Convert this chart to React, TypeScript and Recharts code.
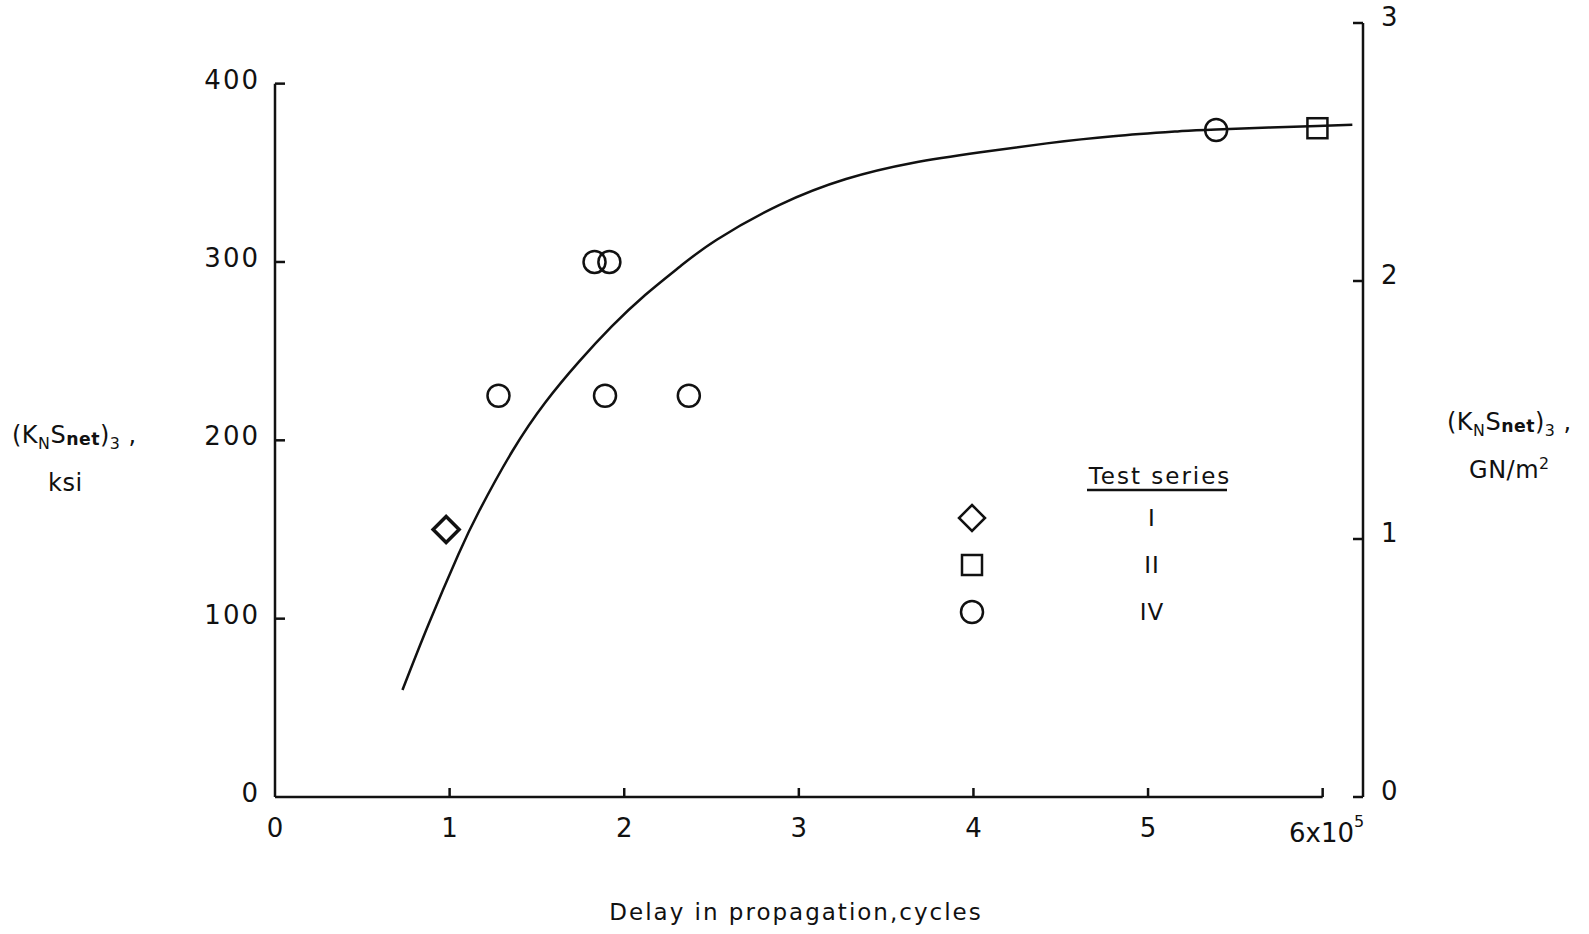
import React from "react";
import {
  ComposedChart,
  Line,
  Scatter,
  XAxis,
  YAxis,
  ReferenceLine,
  Legend,
} from "recharts";

// fitted curve (x in 10^5 cycles, y in ksi)
const curveX = [0.73, 0.88, 1.05, 1.17, 1.36, 1.55, 1.74, 1.93, 2.12, 2.32, 2.53, 2.89, 3.27, 3.65, 4.04, 4.42, 4.8, 5.18, 5.39, 5.97, 6.17];
const curveY = [60, 97, 136, 160.5, 194, 221.5, 244, 264, 281.5, 297.5, 312.5, 332, 346.5, 355.5, 361.5, 366.5, 370.5, 373.3, 374.3, 376.3, 377];

// test series points
const seriesIX = [0.98];
const seriesIY = [150];
const seriesIIX = [5.97];
const seriesIIY = [375];
const seriesIVX = [1.28, 1.83, 1.915, 1.89, 2.37, 5.39];
const seriesIVY = [225, 300, 300, 225, 225, 374];

const xTicks = [0, 1, 2, 3, 4, 5, 6];
const ksiTicks = [0, 100, 200, 300, 400];
const gnTicks = [0, 1, 2, 3];

const zip = (xs: number[], ys: number[]) => xs.map((x, i) => ({ x, y: ys[i] }));
const curve = zip(curveX, curveY);

const FONT = "'DejaVu Sans', sans-serif";
const INK = "#111";
const SW = 2.5;

const Circle = ({ cx, cy }: any) => (
  <circle cx={cx} cy={cy} r={11} fill="none" stroke={INK} strokeWidth={SW} />
);
const Square = ({ cx, cy }: any) => (
  <rect x={cx - 10} y={cy - 10} width={20} height={20} fill="none" stroke={INK} strokeWidth={SW} />
);
const Diamond = ({ cx, cy, bold }: any) => (
  <polygon
    points={`${cx},${cy - 13} ${cx + 13},${cy} ${cx},${cy + 13} ${cx - 13},${cy}`}
    fill="none"
    stroke={INK}
    strokeWidth={bold ? 3.5 : SW}
  />
);

const SHAPES: Record<string, any> = { I: Diamond, II: Square, IV: Circle };

const LeftTick = ({ x, y, payload }: any) => (
  <g>
    {payload.value > 0 && <line x1={x} x2={x + 10} y1={y} y2={y} stroke={INK} strokeWidth={SW} />}
    <text x={x - 15} y={y - 4} textAnchor="end" dominantBaseline="central" fontSize={26} fontFamily={FONT} letterSpacing={2} fill={INK}>
      {payload.value}
    </text>
  </g>
);

const RightTick = ({ x, y, payload }: any) => (
  <g>
    <line x1={x - 10} x2={x} y1={y} y2={y} stroke={INK} strokeWidth={SW} />
    <text x={x + 18} y={y - 6} textAnchor="start" dominantBaseline="central" fontSize={26} fontFamily={FONT} fill={INK}>
      {payload.value}
    </text>
  </g>
);

const BottomTick = ({ x, y, payload }: any) => (
  <g>
    {payload.value > 0 && <line x1={x} x2={x} y1={y} y2={y - 9} stroke={INK} strokeWidth={SW} />}
    {payload.value === 6 ? (
      <text x={x + 4} y={y + 36} textAnchor="middle" dominantBaseline="central" fontSize={26} fontFamily={FONT} fill={INK}>
        6x10
        <tspan dy={-12} fontSize={16}>5</tspan>
      </text>
    ) : (
      <text x={x} y={y + 31} textAnchor="middle" dominantBaseline="central" fontSize={26} fontFamily={FONT} fill={INK}>
        {payload.value}
      </text>
    )}
  </g>
);

const LegendBox = ({ payload }: any) => {
  const rows = (payload || []).filter((p: any) => SHAPES[p.value]);
  return (
    <svg width={320} height={200} style={{ overflow: "visible" }}>
      <text x={220} y={44} textAnchor="middle" fontSize={23} fontFamily={FONT} letterSpacing={2} fill={INK}>
        Test series
      </text>
      <line x1={147} x2={287} y1={50} y2={50} stroke={INK} strokeWidth={SW} />
      {rows.map((p: any, i: number) => {
        const Shape = SHAPES[p.value];
        const cy = 78 + i * 47;
        return (
          <g key={p.value}>
            <Shape cx={32} cy={cy} />
            <text x={212} y={cy} textAnchor="middle" dominantBaseline="central" fontSize={23} fontFamily={FONT} letterSpacing={1} fill={INK}>
              {p.value}
            </text>
          </g>
        );
      })}
    </svg>
  );
};

const sub: React.CSSProperties = { fontSize: "0.66em", position: "relative", top: "0.35em" };
const subNet: React.CSSProperties = { fontSize: "0.72em", position: "relative", top: "0.12em", fontWeight: "bold" };
const sup: React.CSSProperties = { fontSize: "0.66em", position: "relative", top: "-0.55em" };

const YTitle = ({ left, top, unit, unitShift = 0 }: any) => (
  <div
    style={{
      position: "absolute",
      left,
      top,
      fontFamily: FONT,
      fontSize: 24,
      letterSpacing: 0.5,
      color: INK,
      display: "flex",
      flexDirection: "column",
      alignItems: "center",
    }}
  >
    <div style={{ height: 48, lineHeight: "50px", whiteSpace: "nowrap" }}>
      (K<span style={sub}>N</span>S<span style={subNet}>net</span>)<span style={sub}>3</span> ,
    </div>
    <div style={{ height: 50, lineHeight: "50px", whiteSpace: "nowrap", marginLeft: unitShift }}>{unit}</div>
  </div>
);

export default function App() {
  return (
    <div style={{ position: "absolute", left: 0, top: 0, width: 1589, height: 934, background: "#fff" }}>
      <ComposedChart
        width={1589}
        height={934}
        margin={{ top: 23, right: 166, bottom: 97, left: 215 }}
      >
        <XAxis
          dataKey="x"
          type="number"
          domain={[0, 6.231]}
          allowDataOverflow
          ticks={xTicks}
          axisLine={false}
          tickLine={false}
          tickSize={0}
          tickMargin={0}
          height={40}
          tick={<BottomTick />}
        />
        <YAxis
          yAxisId="left"
          type="number"
          domain={[0, 434]}
          allowDataOverflow
          ticks={ksiTicks}
          axisLine={false}
          tickLine={false}
          tickSize={0}
          tickMargin={0}
          width={60}
          tick={<LeftTick />}
        />
        <YAxis
          yAxisId="right"
          orientation="right"
          type="number"
          domain={[0, 3]}
          allowDataOverflow
          ticks={gnTicks}
          axisLine={{ stroke: INK, strokeWidth: SW }}
          tickLine={false}
          tickSize={0}
          tickMargin={0}
          width={60}
          tick={<RightTick />}
        />
        <ReferenceLine
          yAxisId="left"
          segment={[{ x: 0, y: 0 }, { x: 0, y: 400 }]}
          stroke={INK}
          strokeWidth={SW}
        />
        <ReferenceLine
          yAxisId="left"
          segment={[{ x: 0, y: 0 }, { x: 6, y: 0 }]}
          stroke={INK}
          strokeWidth={SW}
        />
        <Line
          yAxisId="left"
          data={curve}
          dataKey="y"
          type="natural"
          stroke={INK}
          strokeWidth={SW}
          dot={false}
          legendType="none"
          isAnimationActive={false}
        />
        <Scatter
          yAxisId="left"
          name="I"
          data={zip(seriesIX, seriesIY)}
          dataKey="y"
          shape={(p: any) => <Diamond cx={p.cx} cy={p.cy} bold />}
          isAnimationActive={false}
        />
        <Scatter
          yAxisId="left"
          name="II"
          data={zip(seriesIIX, seriesIIY)}
          dataKey="y"
          shape={(p: any) => <Square cx={p.cx} cy={p.cy} />}
          isAnimationActive={false}
        />
        <Scatter
          yAxisId="left"
          name="IV"
          data={zip(seriesIVX, seriesIVY)}
          dataKey="y"
          shape={(p: any) => <Circle cx={p.cx} cy={p.cy} />}
          isAnimationActive={false}
        />
        <Legend
          layout="horizontal"
          verticalAlign="middle"
          align="center"
          content={<LegendBox />}
          wrapperStyle={{ position: "absolute", left: 940, top: 440, width: 320, height: 200 }}
        />
      </ComposedChart>
      <YTitle left={12} top={410} unit="ksi" unitShift={-18} />
      <YTitle
        left={1447}
        top={397}
        unit={
          <span>
            GN/m<span style={sup}>2</span>
          </span>
        }
      />
      <div
        style={{
          position: "absolute",
          left: 0,
          width: 1592,
          top: 899,
          textAlign: "center",
          fontFamily: FONT,
          fontSize: 23,
          letterSpacing: 2,
          color: INK,
        }}
      >
        Delay in propagation,cycles
      </div>
    </div>
  );
}
